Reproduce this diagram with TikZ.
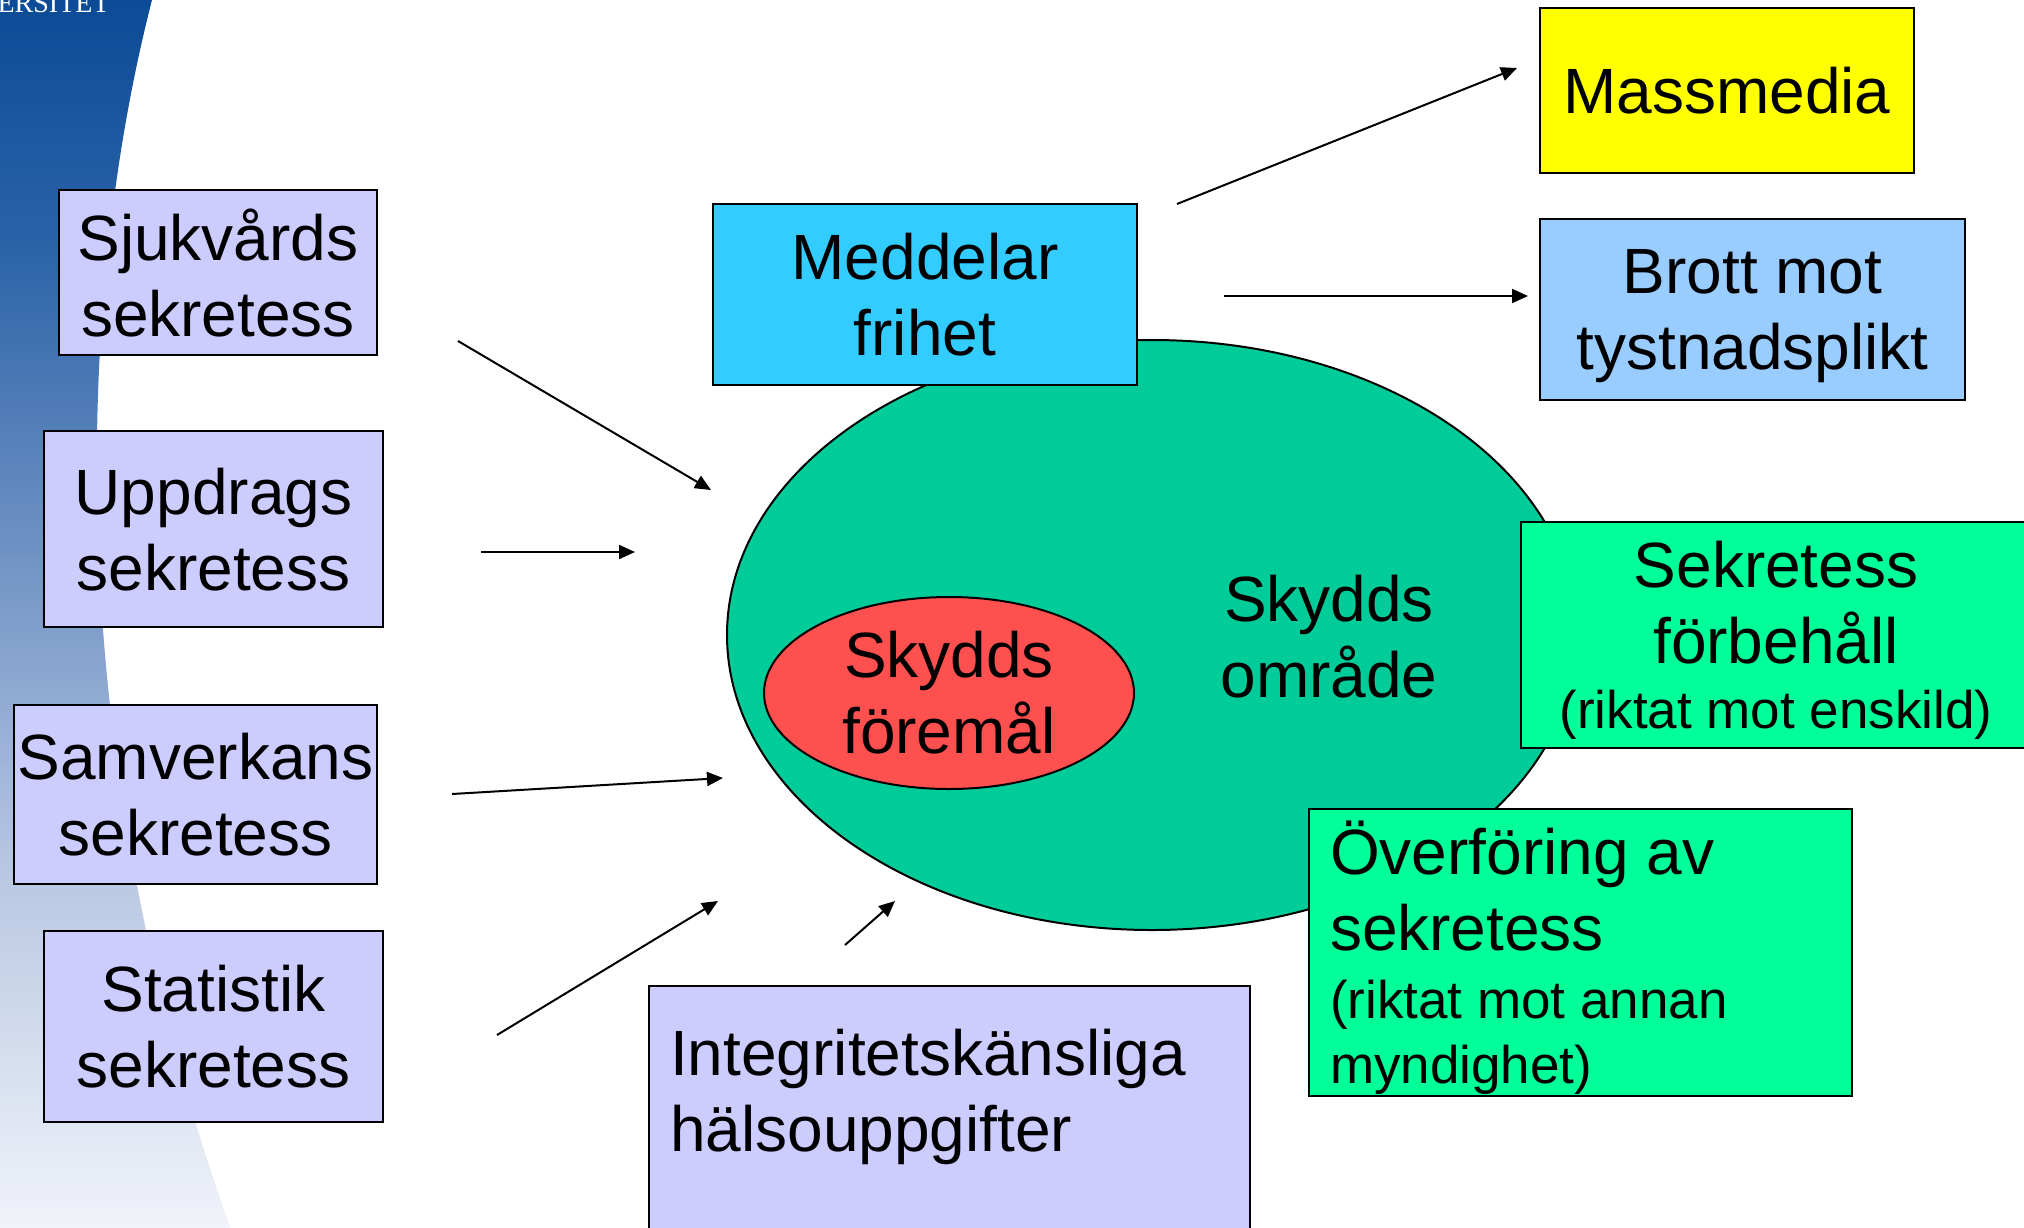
\documentclass[tikz,border=0pt]{standalone}
\usepackage{fontspec}
\setmainfont{Liberation Sans}
\newfontfamily\logofont{Liberation Serif}
\usetikzlibrary{arrows.meta,shapes.geometric}
\setlength{\parindent}{0pt}
\definecolor{lila}{HTML}{CCCCFF}
\definecolor{himmel}{HTML}{33CCFF}
\definecolor{gul}{HTML}{FFFF00}
\definecolor{ljusbla}{HTML}{99CCFF}
\definecolor{ljusgron}{HTML}{00FF99}
\definecolor{omradegron}{HTML}{00CC99}
\definecolor{rod}{HTML}{FF5050}
\definecolor{bgtop}{HTML}{0B4A96}
\definecolor{bgA}{HTML}{2A62A8}
\definecolor{bgB}{HTML}{6F92C4}
\definecolor{bgC}{HTML}{B7C6E2}
\definecolor{bgbot}{HTML}{F2F4FA}
\pgfdeclareverticalshading{bgfade}{100bp}{color(0bp)=(bgbot); color(25bp)=(bgbot);
  color(40bp)=(bgC); color(52.5bp)=(bgB); color(65bp)=(bgA); color(75bp)=(bgtop); color(100bp)=(bgtop)}
\newcommand\liten{\fontsize{26.5}{32}\selectfont}
\begin{document}
\begin{tikzpicture}[x=0.5pt,y=-0.5pt,
  box/.style={draw,line width=1.2pt,inner sep=0pt,align=center,text depth=0pt,font=\fontsize{32}{38}\selectfont},
  pil/.style={line width=1pt,-{Triangle[length=8pt,width=7pt]}}]
\useasboundingbox (0,0) rectangle (2024,1227);
% background band at the left
\shade[shading=bgfade] (-10,-10) -- (152,-10) -- (152,0) .. controls (75,300) and (60,750) .. (230,1227) -- (230,1237) -- (-10,1237) -- cycle;
\node[anchor=base east,inner sep=0pt,text=white,font=\logofont\fontsize{14}{16}\selectfont] (logo) at (110,12) {ERSITET};
% protected area
\node[draw,ellipse,fill=omradegron,line width=1pt,minimum width=425pt,minimum height=295pt,inner sep=0pt] (omrade) at (1152,635) {};
\node[align=center,inner sep=0pt,font=\fontsize{32}{38}\selectfont] (omradetext) at (1329,637) {Skydds\\område};
\node[draw,ellipse,fill=rod,line width=1pt,minimum width=185pt,minimum height=96pt,inner sep=0pt,align=center,font=\fontsize{32}{38}\selectfont] (foremal) at (949,693) {Skydds\\föremål};
% boxes on the left
\node[box,fill=lila,minimum width=159pt,minimum height=82.5pt] (sjukvard) at (218,272.5) {Sjukvårds\\sekretess};
\node[box,fill=lila,minimum width=169.5pt,minimum height=98pt] (uppdrag) at (213.5,529) {Uppdrags\\sekretess};
\node[box,fill=lila,minimum width=181.5pt,minimum height=89.5pt] (samverkan) at (195.5,794.5) {Samverkans\\sekretess};
\node[box,fill=lila,minimum width=169.5pt,minimum height=95.5pt] (statistik) at (213.5,1026.5) {Statistik\\sekretess};
% boxes at the top and right
\node[box,fill=himmel,minimum width=212pt,minimum height=90.5pt] (meddelar) at (925,294.5) {Meddelar\\frihet};
\node[box,fill=gul,minimum width=187pt,minimum height=82.5pt] (massmedia) at (1727,90.5) {Massmedia};
\node[box,fill=ljusbla,minimum width=212.5pt,minimum height=90.5pt] (brott) at (1752.5,309.5) {Brott mot\\tystnadsplikt};
\node[box,fill=ljusgron,minimum width=255pt,minimum height=113pt] (forbehall) at (1776,635) {Sekretess\\förbehåll\\[-5.5pt]{\liten(riktat mot enskild)}};
\node[box,fill=ljusgron,align=flush left,text width=250.5pt,inner xsep=10.5pt,minimum width=271.5pt,minimum height=143.5pt,text depth={}] (overforing) at (1580.5,952.5) {\rule{0pt}{31.5pt}Överföring av\\sekretess\\[-4pt]{\liten(riktat mot annan}\\[-5.5pt]{\liten myndighet)}};
\node[box,fill=lila,anchor=north west,align=flush left,text width=279.5pt,inner xsep=10.5pt,minimum width=300.5pt,minimum height=142pt,text depth={}] (integritet) at (648,985) {Integritetskänsliga\\hälsouppgifter\\\mbox{}};
% arrows
\coordinate (p1) at (458,341);   \coordinate (q1) at (711,490);
\coordinate (p2) at (481,552);   \coordinate (q2) at (635,552);
\coordinate (p3) at (452,794);   \coordinate (q3) at (723,778);
\coordinate (p4) at (497,1035);  \coordinate (q4) at (718,901);
\coordinate (p5) at (845,945);   \coordinate (q5) at (895,901);
\coordinate (p6) at (1177,204);  \coordinate (q6) at (1517,68);
\coordinate (p7) at (1224,296);  \coordinate (q7) at (1528,296);
\foreach \i in {1,...,7}
  \draw[pil] (p\i) -- (q\i);
\end{tikzpicture}
\end{document}
